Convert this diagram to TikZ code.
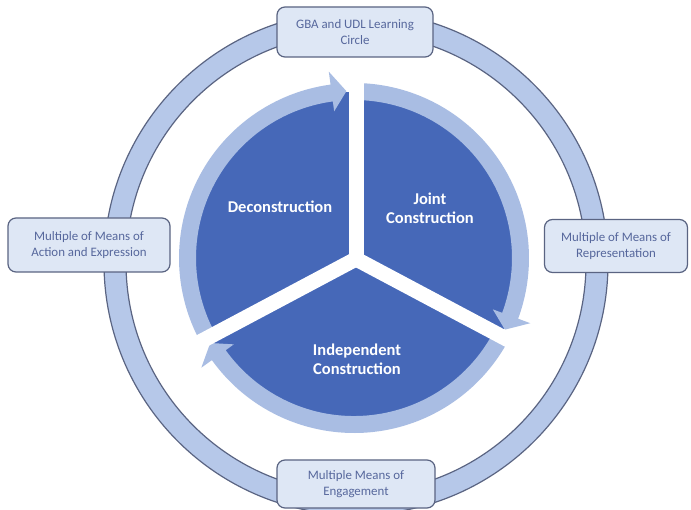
\documentclass[tikz,border=0pt]{standalone}
\usepackage{fontspec}
\setmainfont{Carlito}
\definecolor{sector}{HTML}{4668B8}
\definecolor{band}{HTML}{A9BDE3}
\definecolor{ringfill}{HTML}{B6C8E9}
\definecolor{ringline}{HTML}{5A6482}
\definecolor{boxfill}{HTML}{DEE7F5}
\definecolor{boxtext}{HTML}{56679C}
\tikzset{
  infobox/.style={draw=ringline, line width=1.2pt, fill=boxfill, rounded corners=8pt,
    align=center, text=boxtext, font=\fontsize{12.9}{16.5}\selectfont, inner sep=2pt},
  gapline/.style={white, line width=15pt},
  pielabel/.style={text=white, align=center, font=\fontsize{16.5}{19}\selectfont\bfseries}
}
\begin{document}
\begin{tikzpicture}[x=1pt,y=1pt]
\useasboundingbox (0,0) rectangle (691,509);
\fill[white] (0,0) rectangle (691,509);
\coordinate (R) at (356,246);
\coordinate (P) at (354,251);
\coordinate (J) at (356,250);
% outer ring
\path[draw=ringline, line width=1.2pt, fill=ringfill, even odd rule] (R) circle (252) (R) circle (230);
% pie
\fill[sector] (P) circle (166);
\begin{scope}[shift={(P)}]
\fill[band] (208:158) arc[start angle=208, end angle=97.7, radius=158] -- (97.7:148) -- (92.6:167) -- (97.7:188) -- (97.7:175) arc[start angle=97.7, end angle=208, radius=175] -- cycle;
\fill[band] (90:158) arc[start angle=90, end angle=-20.3, radius=158] -- (-20.3:148) -- (-25.4:167) -- (-20.3:188) -- (-20.3:175) arc[start angle=-20.3, end angle=90, radius=175] -- cycle;
\fill[band] (-28:158) arc[start angle=-28, end angle=-144.3, radius=158] -- (-144.3:148) -- (-149.4:167) -- (-144.3:188) -- (-144.3:175) arc[start angle=-144.3, end angle=-28, radius=175] -- cycle;
\end{scope}
\draw[gapline] (J) -- ++(90:200);
\draw[gapline] (J) -- ++(208:200);
\draw[gapline] (J) -- ++(-28:200);
\fill[white] (J) circle (7.5);
% pie labels
\node[pielabel] (dec) at (280,302) {Deconstruction};
\node[pielabel] (joint) at (430,301) {Joint\\Construction};
\node[pielabel] (ind) at (357,150) {Independent\\Construction};
% boxes
\node[infobox, minimum width=156pt, minimum height=50pt] (top) at (355,477) {GBA and UDL Learning\\Circle};
\node[infobox, minimum width=162pt, minimum height=54pt] (left) at (89,264) {Multiple of Means of\\Action and Expression};
\node[infobox, minimum width=143pt, minimum height=53pt] (right) at (616,263) {Multiple of Means of\\Representation};
\node[infobox, minimum width=158pt, minimum height=48pt] (bottom) at (356,25) {Multiple Means of\\Engagement};
\end{tikzpicture}
\end{document}
